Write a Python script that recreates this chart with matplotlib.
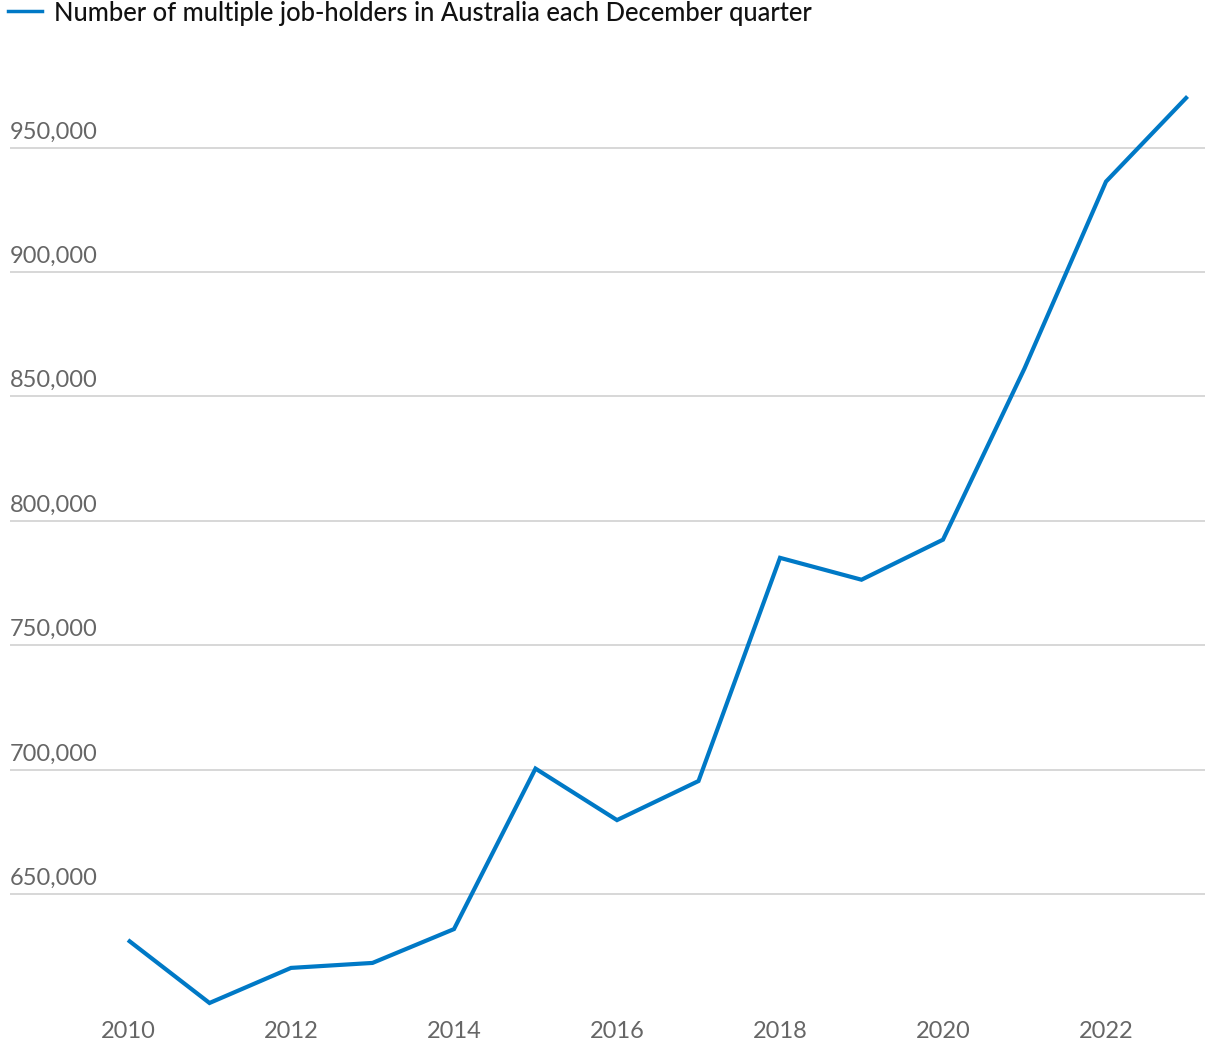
import matplotlib
matplotlib.use("Agg")
import matplotlib.pyplot as plt
from matplotlib import transforms

years = [2010, 2011, 2012, 2013, 2014, 2015, 2016, 2017, 2018, 2019, 2020, 2021, 2022, 2023]
holders = [631500, 606200, 620300, 622300, 635900, 700400, 679700, 695400,
           785100, 776300, 792400, 861200, 936300, 970500]
y_ticks = [650000, 700000, 750000, 800000, 850000, 900000, 950000]
x_ticks = [2010, 2012, 2014, 2016, 2018, 2020, 2022]
series_label = "Number of multiple job-holders in Australia each December quarter"

plt.rcParams['font.family'] = ['Lato', 'DejaVu Sans']

W, H = 1220, 1050
fig = plt.figure(figsize=(W / 100, H / 100), dpi=100)
left_px, right_px, top_px, bottom_px = 10, 1205, 60, 1010
ax = fig.add_axes([left_px / W, 1 - bottom_px / H, (right_px - left_px) / W, (bottom_px - top_px) / H])

line_color = "#0079c6"
ax.plot(years, holders, color=line_color, lw=3, solid_joinstyle='miter', solid_capstyle='butt', zorder=3)

px_per_year = 81.5
ax.set_xlim(2010 - (128 - left_px) / px_per_year, 2010 + (right_px - 128) / px_per_year)
vpp = 300000 / 746.5
ax.set_ylim(950000 - (bottom_px - 147.5) * vpp, 950000 + (147.5 - top_px) * vpp)

for s in ax.spines.values():
    s.set_visible(False)
ax.set_yticks(y_ticks)
ax.set_yticklabels([])
ax.tick_params(axis='y', length=0)
ax.grid(axis='y', color='#d4d4d4', lw=1.3)
ax.set_axisbelow(True)
label_tr = transforms.offset_copy(ax.get_yaxis_transform(), fig=fig, x=0, y=9, units='dots')
for v in y_ticks:
    ax.text(0, v, f"{v:,}", transform=label_tr, ha='left', va='baseline',
            fontsize=17, color='#666666')

ax.set_xticks(x_ticks)
ax.set_xticklabels([str(x) for x in x_ticks])
ax.tick_params(axis='x', length=0, pad=8, labelsize=17, labelcolor='#666666')

# legend at top
fig.add_artist(plt.Line2D([8 / W, 42 / W], [1 - 11 / H, 1 - 11 / H], color=line_color, lw=2.5))
fig.text(54 / W, 1 - 21 / H, series_label, ha='left', va='baseline', fontsize=18.4,
         color='#111111', fontweight='medium')

fig.savefig("out.png", dpi=100, facecolor='white')
